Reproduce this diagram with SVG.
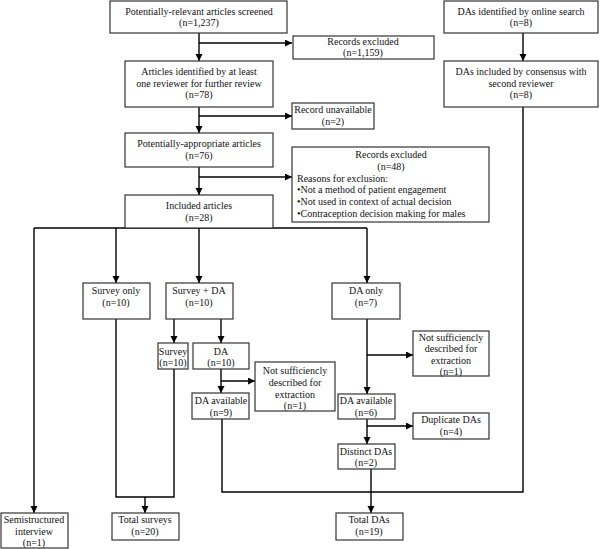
<svg xmlns="http://www.w3.org/2000/svg" width="600" height="549" viewBox="0 0 600 549" font-family="'Liberation Serif', 'Times New Roman', serif" font-size="10">
<defs>
<marker id="ah" markerUnits="userSpaceOnUse" markerWidth="8" markerHeight="8" refX="7" refY="3.5" orient="auto">
<path d="M0,0 L7,3.5 L0,7 z" fill="#000"/>
</marker>
<style>
.b{fill:#fff;stroke:#333;stroke-width:1.2}
text{font-family:'Liberation Serif','Times New Roman',serif;font-size:10px;fill:#111;text-anchor:middle}
.l{text-anchor:start}
.c{fill:none;stroke:#000;stroke-width:1.4}
.a{marker-end:url(#ah)}
</style>
</defs>
<rect width="600" height="549" fill="#fff"/>
<g id="connectors">
<line class="c a" x1="199" y1="33" x2="199" y2="61"/>
<line class="c a" x1="199" y1="43" x2="292" y2="43"/>
<line class="c a" x1="199" y1="107" x2="199" y2="133"/>
<line class="c a" x1="199" y1="116" x2="292" y2="116"/>
<line class="c a" x1="199" y1="167" x2="199" y2="195"/>
<line class="c a" x1="199" y1="177" x2="292" y2="177"/>
<line class="c" x1="34" y1="228" x2="367" y2="228"/>
<line class="c a" x1="34" y1="228" x2="34" y2="513"/>
<line class="c a" x1="116" y1="228" x2="116" y2="283"/>
<line class="c a" x1="199" y1="228" x2="199" y2="283"/>
<line class="c a" x1="367" y1="228" x2="367" y2="283"/>
<line class="c a" x1="174" y1="319" x2="174" y2="343"/>
<line class="c a" x1="221" y1="319" x2="221" y2="343"/>
<line class="c a" x1="221" y1="369" x2="221" y2="393"/>
<line class="c a" x1="221" y1="381" x2="255" y2="381"/>
<polyline class="c" points="222,419 222,492 523,492 523,107"/>
<line class="c a" x1="367" y1="319" x2="367" y2="394"/>
<line class="c a" x1="367" y1="355" x2="413" y2="355"/>
<line class="c a" x1="367" y1="419" x2="367" y2="444"/>
<line class="c a" x1="367" y1="426" x2="413" y2="426"/>
<line class="c a" x1="371" y1="469" x2="371" y2="513"/>
<polyline class="c" points="116,319 116,497 174,497 174,369"/>
<line class="c a" x1="145" y1="497" x2="145" y2="513"/>
<line class="c a" x1="523" y1="33" x2="523" y2="61"/>
</g>
<g id="n1"><rect class="b" x="110" y="1" width="177" height="32"/><text x="199" y="14.5">Potentially-relevant articles screened</text><text x="199" y="26">(n=1,237)</text></g>
<g id="n2"><rect class="b" x="293" y="36" width="141" height="23"/><text x="363" y="45">Records excluded</text><text x="363" y="56">(n=1,159)</text></g>
<g id="n3"><rect class="b" x="125" y="61" width="148" height="46"/><text x="199" y="75">Articles identified by at least</text><text x="199" y="86.5">one reviewer for further review</text><text x="199" y="98">(n=78)</text></g>
<g id="n4"><rect class="b" x="292" y="103" width="82" height="26"/><text x="333" y="113">Record unavailable</text><text x="333" y="125">(n=2)</text></g>
<g id="n5"><rect class="b" x="125" y="133" width="148" height="34"/><text x="199" y="147">Potentially-appropriate articles</text><text x="199" y="159">(n=76)</text></g>
<g id="n6"><rect class="b" x="292" y="147" width="197" height="75"/><text x="391" y="158">Records excluded</text><text x="391" y="170">(n=48)</text><text class="l" x="297" y="181.5">Reasons for exclusion:</text><text class="l" x="297" y="193">•Not a method of patient engagement</text><text class="l" x="297" y="205">•Not used in context of actual decision</text><text class="l" x="297" y="216.5">•Contraception decision making for males</text></g>
<g id="n7"><rect class="b" x="125" y="195" width="148" height="33"/><text x="199" y="209">Included articles</text><text x="199" y="220.5">(n=28)</text></g>
<g id="n8"><rect class="b" x="444" y="1" width="154" height="32"/><text x="521" y="14.5">DAs identified by online search</text><text x="521" y="26">(n=8)</text></g>
<g id="n9"><rect class="b" x="444" y="61" width="154" height="46"/><text x="521" y="75">DAs included by consensus with</text><text x="521" y="86.5">second reviewer</text><text x="521" y="98">(n=8)</text></g>
<g id="n10"><rect class="b" x="83" y="283" width="67" height="36"/><text x="116" y="294">Survey only</text><text x="116" y="305.5">(n=10)</text></g>
<g id="n11"><rect class="b" x="166" y="283" width="67" height="36"/><text x="199" y="294">Survey + DA</text><text x="199" y="305.5">(n=10)</text></g>
<g id="n12"><rect class="b" x="332" y="283" width="68" height="36"/><text x="366" y="294">DA only</text><text x="366" y="305.5">(n=7)</text></g>
<g id="n13"><rect class="b" x="158" y="343" width="30" height="26"/><text x="173" y="355">Survey</text><text x="173" y="366">(n=10)</text></g>
<g id="n14"><rect class="b" x="193" y="343" width="56" height="26"/><text x="221" y="355">DA</text><text x="221" y="366">(n=10)</text></g>
<g id="n15"><rect class="b" x="255" y="362" width="80" height="49"/><text x="295" y="374">Not sufficiencly</text><text x="295" y="386">described for</text><text x="295" y="398">extraction</text><text x="295" y="409">(n=1)</text></g>
<g id="n16"><rect class="b" x="192" y="393" width="57" height="26"/><text x="221" y="404">DA available</text><text x="221" y="416">(n=9)</text></g>
<g id="n17"><rect class="b" x="413" y="331" width="76" height="45"/><text x="451" y="340.5">Not sufficiencly</text><text x="451" y="352">described for</text><text x="451" y="363.5">extraction</text><text x="451" y="375">(n=1)</text></g>
<g id="n18"><rect class="b" x="338" y="394" width="57" height="25"/><text x="366" y="404">DA available</text><text x="366" y="416">(n=6)</text></g>
<g id="n19"><rect class="b" x="413" y="413" width="76" height="26"/><text x="451" y="423">Duplicate DAs</text><text x="451" y="435">(n=4)</text></g>
<g id="n20"><rect class="b" x="338" y="444" width="57" height="25"/><text x="366" y="455">Distinct DAs</text><text x="366" y="466">(n=2)</text></g>
<g id="n21"><rect class="b" x="1" y="513" width="67" height="35"/><text x="34" y="523">Semistructured</text><text x="34" y="534.5">interview</text><text x="34" y="546">(n=1)</text></g>
<g id="n22"><rect class="b" x="112" y="513" width="67" height="27"/><text x="145" y="523">Total surveys</text><text x="145" y="535">(n=20)</text></g>
<g id="n23"><rect class="b" x="336" y="513" width="67" height="27"/><text x="369" y="523">Total DAs</text><text x="369" y="535">(n=19)</text></g>
</svg>
